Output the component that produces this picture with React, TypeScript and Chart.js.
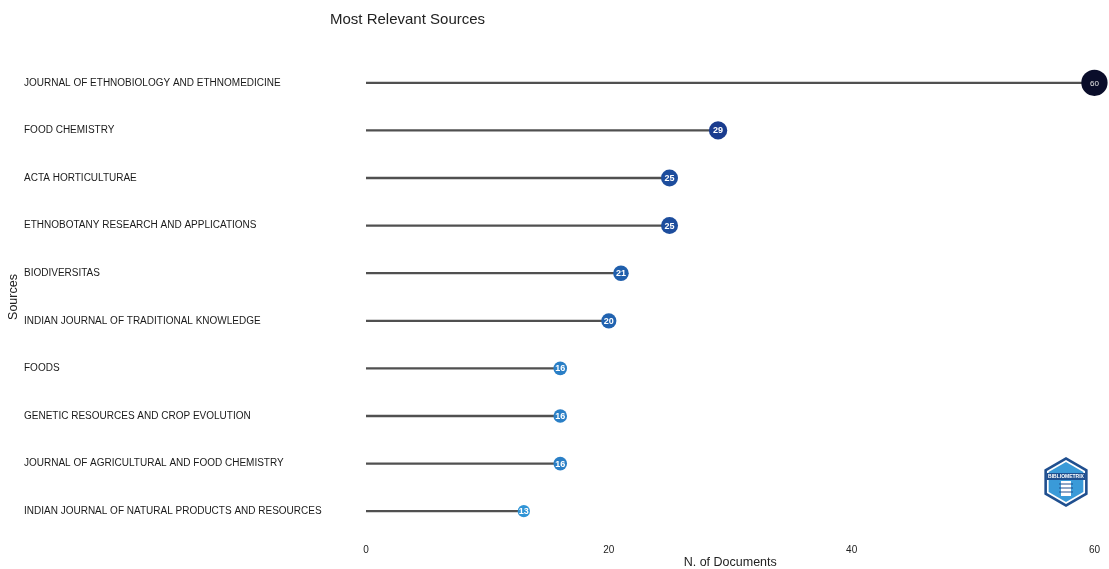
import React, { useEffect, useRef } from "react";
import { Chart, registerables } from "chart.js";

Chart.register(...registerables);

const sources = [
  "JOURNAL OF ETHNOBIOLOGY AND ETHNOMEDICINE",
  "FOOD CHEMISTRY",
  "ACTA HORTICULTURAE",
  "ETHNOBOTANY RESEARCH AND APPLICATIONS",
  "BIODIVERSITAS",
  "INDIAN JOURNAL OF TRADITIONAL KNOWLEDGE",
  "FOODS",
  "GENETIC RESOURCES AND CROP EVOLUTION",
  "JOURNAL OF AGRICULTURAL AND FOOD CHEMISTRY",
  "INDIAN JOURNAL OF NATURAL PRODUCTS AND RESOURCES",
];
const documents = [60, 29, 25, 25, 21, 20, 16, 16, 16, 13];
const xTicks = [0, 20, 40, 60];
const chartTitle = "Most Relevant Sources";
const xTitle = "N. of Documents";
const yTitle = "Sources";

const FONT = "'Liberation Sans', Arial, sans-serif";

const colorStops: [number, number[]][] = [
  [13, [48, 148, 214]],
  [20, [33, 99, 176]],
  [29, [26, 60, 142]],
  [60, [10, 13, 42]],
];
function colorFor(v: number): string {
  if (v <= colorStops[0][0]) return `rgb(${colorStops[0][1].join(",")})`;
  for (let i = 1; i < colorStops.length; i++) {
    const [v1, c1] = colorStops[i];
    const [v0, c0] = colorStops[i - 1];
    if (v <= v1) {
      const t = (v - v0) / (v1 - v0);
      const c = c0.map((a, k) => Math.round(a + (c1[k] - a) * t));
      return `rgb(${c.join(",")})`;
    }
  }
  return `rgb(${colorStops[colorStops.length - 1][1].join(",")})`;
}
const radiusFor = (v: number) => 1.7 * Math.sqrt(v);

const titlePlugin = {
  id: "customTitle",
  afterDraw(chart: any) {
    const ctx = chart.ctx;
    ctx.save();
    ctx.font = `15px ${FONT}`;
    ctx.fillStyle = "#222";
    ctx.textAlign = "left";
    ctx.textBaseline = "middle";
    ctx.fillText(chartTitle, 330, 20);
    ctx.restore();
  },
};

const pointLabelPlugin = {
  id: "pointLabels",
  afterDatasetsDraw(chart: any) {
    const ctx = chart.ctx;
    const meta = chart.getDatasetMeta(0);
    ctx.save();
    ctx.textAlign = "center";
    ctx.textBaseline = "middle";
    meta.data.forEach((pt: any, i: number) => {
      const v = documents[i];
      ctx.font = v >= 50 ? `8px ${FONT}` : `bold 9px ${FONT}`;
      ctx.fillStyle = v >= 50 ? "#e6e6e6" : "#ffffff";
      ctx.fillText(String(v), pt.x, pt.y + 0.5);
    });
    ctx.restore();
  },
};

const logoPlugin = {
  id: "logo",
  afterDraw(chart: any) {
    const ctx = chart.ctx;
    const cx = 1066, cy = 482, r = 25;
    const hex = (rad: number) => {
      ctx.beginPath();
      for (let k = 0; k < 6; k++) {
        const a = -Math.PI / 2 + (k * Math.PI) / 3;
        const x = cx + rad * Math.cos(a);
        const y = cy + rad * Math.sin(a);
        if (k === 0) ctx.moveTo(x, y);
        else ctx.lineTo(x, y);
      }
      ctx.closePath();
    };
    ctx.save();
    hex(r);
    ctx.fillStyle = "#1f4f8f";
    ctx.fill();
    hex(r - 3);
    ctx.fillStyle = "#ffffff";
    ctx.fill();
    hex(r - 5);
    ctx.fillStyle = "#3a9ad8";
    ctx.fill();
    ctx.fillStyle = "#1f4f8f";
    ctx.fillRect(cx - 19, cy - 9, 38, 7);
    ctx.fillStyle = "#ffffff";
    ctx.font = `bold 5px ${FONT}`;
    ctx.textAlign = "center";
    ctx.textBaseline = "middle";
    ctx.fillText("BIBLIOMETRIX", cx, cy - 5.5);
    ctx.fillStyle = "#ffffff";
    ctx.fillRect(cx - 5, cy - 1, 10, 15);
    ctx.strokeStyle = "#1f4f8f";
    ctx.lineWidth = 1;
    for (let k = 0; k < 3; k++) {
      ctx.beginPath();
      ctx.moveTo(cx - 7, cy + 2 + k * 4);
      ctx.lineTo(cx + 7, cy + 2 + k * 4);
      ctx.stroke();
    }
    ctx.restore();
  },
};

export default function App() {
  const canvasRef = useRef<HTMLCanvasElement | null>(null);

  useEffect(() => {
    if (!canvasRef.current) return;
    const chart = new Chart(canvasRef.current, {
      type: "bar",
      data: {
        labels: sources,
        datasets: [
          {
            type: "line",
            data: documents,
            showLine: false,
            pointRadius: documents.map(radiusFor),
            pointHoverRadius: documents.map(radiusFor),
            pointBackgroundColor: documents.map(colorFor),
            pointBorderColor: documents.map(colorFor),
            pointBorderWidth: 0,
            order: 1,
            clip: false,
          } as any,
          {
            type: "bar",
            data: documents,
            backgroundColor: "#505050",
            barThickness: 1.6,
            borderWidth: 0,
            grouped: false,
            order: 2,
          } as any,
        ],
      },
      options: {
        indexAxis: "y",
        responsive: false,
        animation: false,
        layout: { padding: { left: 24, right: 14, top: 59, bottom: 0 } },
        plugins: {
          legend: { display: false },
          tooltip: { enabled: false },
          title: { display: false },
        },
        scales: {
          x: {
            type: "linear",
            min: 0,
            max: 60,
            afterBuildTicks: (scale: any) => {
              scale.ticks = xTicks.map((v) => ({ value: v }));
            },
            afterFit: (scale: any) => {
              scale.height = 34;
            },
            grid: { display: false, drawTicks: false },
            border: { display: false },
            ticks: {
              color: "#222",
              font: { family: FONT, size: 10 },
              padding: 9,
            },
            title: {
              display: true,
              text: xTitle,
              color: "#222",
              font: { family: FONT, size: 12.5 },
              padding: { top: 0, bottom: -1.5 },
            },
          },
          y: {
            type: "category",
            offset: true,
            afterFit: (scale: any) => {
              scale.width = 342;
            },
            grid: { display: false, drawTicks: false },
            border: { display: false },
            ticks: {
              crossAlign: "far",
              color: "#1a1a1a",
              font: { family: FONT, size: 10 },
              autoSkip: false,
            },
            title: {
              display: true,
              text: yTitle,
              color: "#222",
              font: { family: FONT, size: 12.5 },
              padding: { top: -17.5, bottom: 0 },
            },
          },
        },
      } as any,
      plugins: [titlePlugin, pointLabelPlugin, logoPlugin],
    });
    return () => chart.destroy();
  }, []);

  return (
    <div style={{ position: "absolute", left: 0, top: 0, width: 1109, height: 569, background: "#fff" }}>
      <canvas ref={canvasRef} width={1109} height={569} />
    </div>
  );
}
